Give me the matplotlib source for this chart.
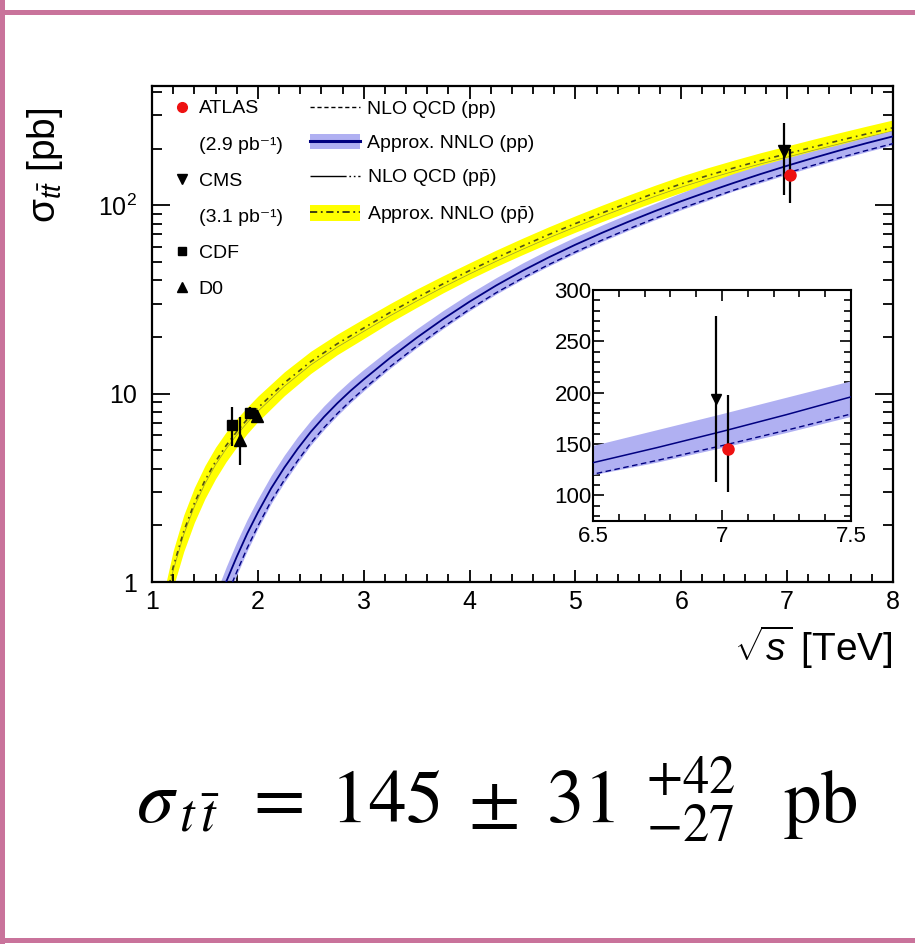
import numpy as np
import matplotlib
matplotlib.use('Agg')
import matplotlib.pyplot as plt
from matplotlib.lines import Line2D
from matplotlib.patches import Patch
from matplotlib.ticker import FixedLocator, MultipleLocator, NullFormatter, LogLocator, FixedFormatter

plt.rcParams['font.family'] = ['Liberation Sans', 'DejaVu Sans']
plt.rcParams['mathtext.fontset'] = 'custom'
plt.rcParams['mathtext.rm'] = 'Liberation Sans'
plt.rcParams['mathtext.it'] = 'Liberation Sans:italic'
plt.rcParams['mathtext.bf'] = 'Liberation Sans:bold'

# ---------------- data ----------------
# pp (LHC) theory curves
pp_x = [1.6, 1.7, 1.8, 1.9, 2.0, 2.125, 2.25, 2.375, 2.5, 2.625, 2.75, 2.875, 3.0,
        3.25, 3.5, 3.75, 4.0, 4.25, 4.5, 4.75, 5.0, 5.25, 5.5, 5.75, 6.0,
        6.25, 6.5, 6.75, 7.0, 7.25, 7.5, 7.75, 8.0]
pp_nnlo = [0.716, 1.0, 1.36, 1.81, 2.34, 3.14, 4.05, 5.09, 6.27, 7.53, 8.89, 10.35, 11.9,
           15.5, 19.8, 24.9, 30.8, 37.5, 44.9, 53.0, 61.8, 71.4, 81.8, 93.1, 105.2,
           118.0, 131.8, 146.6, 162.2, 178.6, 195.9, 213.8, 232.3]
pp_lo = [0.573, 0.80, 1.088, 1.466, 1.919, 2.606, 3.382, 4.276, 5.33, 6.438, 7.645, 8.953, 10.353,
         13.64, 17.52, 22.16, 27.57, 33.75, 40.41, 47.7, 55.62, 64.26, 73.62, 83.79, 94.68,
         106.2, 119.5, 131.9, 146.0, 160.7, 176.3, 192.4, 209.1]
pp_hi = [0.859, 1.20, 1.632, 2.154, 2.761, 3.674, 4.718, 5.904, 7.21, 8.622, 10.135, 11.747, 13.447,
         17.36, 22.08, 27.64, 34.03, 41.25, 49.39, 58.3, 67.98, 78.54, 89.98, 102.41, 116.5,
         132.0, 148.0, 163.5, 179.0, 195.0, 211.0, 230.0, 250.0]
pp_nlo = [0.594, 0.83, 1.129, 1.518, 1.982, 2.686, 3.483, 4.398, 5.471, 6.604, 7.832, 9.16, 10.585,
          13.92, 17.86, 22.57, 28.06, 34.31, 41.08, 48.5, 56.55, 65.33, 74.85, 85.19, 96.26,
          107.97, 120.6, 134.1, 148.4, 163.4, 179.2, 195.6, 212.6]

# p-pbar (Tevatron) theory curves
ppbar_x = [1.1, 1.2, 1.3, 1.4, 1.5, 1.6, 1.7, 1.8, 1.9, 2.0,
           2.25, 2.5, 2.75, 3.0, 3.25, 3.5, 3.75, 4.0, 4.25, 4.5, 4.75, 5.0,
           5.25, 5.5, 5.75, 6.0, 6.25, 6.5, 6.75, 7.0, 7.25, 7.5, 7.75, 8.0]
ppbar_nnlo = [0.675, 1.2, 1.86, 2.62, 3.46, 4.36, 5.30, 6.28, 7.31, 8.4,
              11.4, 14.8, 18.4, 22.3, 27.0, 32.3, 38.3, 45.0, 52.5, 60.8, 70.0, 80.0,
              91.0, 103.0, 116.1, 130.0, 143.9, 158.1, 173.0, 187.9, 204.2, 221.3, 239.3, 258.2]
ppbar_lo = [0.527, 0.936, 1.451, 2.07, 2.77, 3.53, 4.35, 5.21, 6.14, 7.10,
            9.75, 12.8, 16.1, 19.6, 23.9, 28.7, 34.3, 40.5, 47.3, 54.7, 63.0, 72.0,
            81.9, 92.7, 104.5, 117.0, 129.5, 142.3, 155.7, 169.1, 183.8, 199.2, 215.4, 232.4]
ppbar_hi = [0.824, 1.464, 2.269, 3.17, 4.15, 5.19, 6.25, 7.35, 8.48, 9.70,
            13.05, 16.8, 20.7, 25.0, 30.1, 35.9, 42.3, 49.5, 57.8, 66.9, 77.0, 88.0,
            100.1, 113.3, 127.7, 143.0, 158.3, 173.9, 190.3, 206.7, 224.6, 243.4, 263.2, 284.0]
ppbar_nlo = [0.648, 1.152, 1.786, 2.515, 3.32, 4.19, 5.09, 6.03, 7.02, 8.06,
             10.94, 14.21, 17.66, 21.41, 25.92, 31.0, 36.77, 43.2, 50.4, 58.37, 67.2, 76.8,
             87.36, 98.88, 111.46, 124.8, 138.14, 151.78, 166.08, 180.38, 196.03, 212.45, 229.73, 247.87]

# measurements
cdf_x = [1.76, 1.93]
cdf_y = [6.8, 7.9]
cdf_dn = [1.5, 0.6]
cdf_up = [1.7, 0.6]

d0_x = [1.83, 1.99]
d0_y = [5.7, 7.6]
d0_dn = [1.5, 0.6]
d0_up = [1.8, 0.6]

cms_x = [6.975]
cms_y = [194]
cms_dn = [81]
cms_up = [81]

atlas_x = [7.025]
atlas_y = [145]
atlas_dn = [42]
atlas_up = [53]

legend1_labels = ['ATLAS', '(2.9 pb\u207b\u00b9)', 'CMS', '(3.1 pb\u207b\u00b9)', 'CDF', 'D0']
legend2_labels = ['NLO QCD (pp)', 'Approx. NNLO (pp)',
                  r'NLO QCD (p$\bar{\mathrm{p}}$)', r'Approx. NNLO (p$\bar{\mathrm{p}}$)']

# ---------------- style ----------------
YELLOW = '#ffff00'
BLUE_BAND = '#b0b0f2'
NAVY = '#000080'

fig = plt.figure(figsize=(9.15, 9.44), dpi=100)

# slide frame lines
frame_col = '#c9739b'
fig.add_artist(Line2D([0, 1], [1 - 12 / 944, 1 - 12 / 944], color=frame_col, lw=3.6, transform=fig.transFigure))
fig.add_artist(Line2D([0, 1], [1 - 940 / 944, 1 - 940 / 944], color=frame_col, lw=3.6, transform=fig.transFigure))
fig.add_artist(Line2D([2 / 915, 2 / 915], [0, 1], color=frame_col, lw=3.6, transform=fig.transFigure))

ax = fig.add_axes([152 / 915, 1 - 582 / 944, (893 - 152) / 915, (582 - 86) / 944])

def draw_pp(a, lw_main=1.3):
    a.fill_between(pp_x, pp_lo, pp_hi, color=BLUE_BAND, lw=0, zorder=2)
    a.plot(pp_x, pp_nlo, color=NAVY, lw=1.0, ls=(0, (4, 2.5)), zorder=3)
    a.plot(pp_x, pp_nnlo, color=NAVY, lw=lw_main, zorder=3)

ax.fill_between(ppbar_x, ppbar_lo, ppbar_hi, color=YELLOW, lw=0, zorder=1)
ax.plot(ppbar_x, ppbar_nlo, color='#9a9a30', lw=0.5, zorder=1.5)
ax.plot(ppbar_x, ppbar_nnlo, color='#505018', lw=1.2, ls=(0, (3, 2.5, 1, 2.5)), zorder=1.6)
draw_pp(ax)

eb = dict(capsize=0, elinewidth=1.6, ls='none', zorder=5)
ax.errorbar(cdf_x, cdf_y, yerr=[cdf_dn, cdf_up], fmt='s', color='black', ms=7, **eb)
ax.errorbar(d0_x, d0_y, yerr=[d0_dn, d0_up], fmt='^', color='black', ms=8, **eb)
ax.errorbar(cms_x, cms_y, yerr=[cms_dn, cms_up], fmt='v', color='black', ms=8, **eb)
ax.errorbar(atlas_x, atlas_y, yerr=[atlas_dn, atlas_up], fmt='o', color='black', mfc='#ee1111', mec='#ee1111', ms=8, **eb)

ax.set_xlim(1, 8)
ax.set_yscale('log')
ax.set_ylim(1, 430)
ax.xaxis.set_major_locator(MultipleLocator(1))
ax.xaxis.set_minor_locator(MultipleLocator(0.2))
ax.yaxis.set_major_locator(FixedLocator([1, 10, 100]))
ax.yaxis.set_major_formatter(FixedFormatter(['1', '10', r'$\mathregular{10^{2}}$']))
ax.yaxis.set_minor_locator(LogLocator(base=10, subs=np.arange(2, 10)))
ax.yaxis.set_minor_formatter(NullFormatter())
ax.tick_params(which='both', direction='in', top=True, right=True, width=1.3, labelsize=18)
ax.tick_params(axis='x', which='major', length=9, pad=6)
ax.tick_params(axis='x', which='minor', length=5.5)
ax.tick_params(axis='y', which='major', length=13, pad=11)
ax.tick_params(axis='y', which='minor', length=7)
for s in ax.spines.values():
    s.set_linewidth(1.6)

ax.set_xlabel(r'$\sqrt{s}$ [TeV]', fontsize=28, loc='right')
ax.xaxis.set_label_coords(1.0, -0.085)
ax.set_ylabel(r'σ$_{t\bar{t}}$ [pb]', fontsize=28)
ax.yaxis.set_label_coords(-0.118, 0.84)

# legends
h_atlas = Line2D([], [], marker='o', color='#ee1111', ls='none', ms=7)
h_blank = Line2D([], [], ls='none')
h_cms = Line2D([], [], marker='v', color='black', ls='none', ms=7)
h_cdf = Line2D([], [], marker='s', color='black', ls='none', ms=5.5)
h_d0 = Line2D([], [], marker='^', color='black', ls='none', ms=7)
leg1 = ax.legend([h_atlas, h_blank, h_cms, h_blank, h_cdf, h_d0], legend1_labels,
                 loc='upper left', bbox_to_anchor=(0.03, 0.972), frameon=False, fontsize=14,
                 handlelength=0.8, handletextpad=0.45, labelspacing=0.95, borderaxespad=0, borderpad=0)
ax.add_artist(leg1)

h2 = [Line2D([], [], color='black', lw=1.0, ls=(0, (3, 2))),
      (Patch(facecolor=BLUE_BAND, edgecolor='none'), Line2D([], [], color=NAVY, lw=2.2)),
      Line2D([], [], color='black', lw=1.0, ls=(0, (26, 2, 1.2, 2, 1.2, 2))),
      (Patch(facecolor=YELLOW, edgecolor='none'), Line2D([], [], color='#303010', lw=1.3, ls=(0, (4, 2, 1, 2))))]
leg2 = ax.legend(h2, legend2_labels, loc='upper left', bbox_to_anchor=(0.213, 0.972), frameon=False,
                 fontsize=14, handlelength=2.6, handleheight=0.85, handletextpad=0.35, labelspacing=0.78,
                 borderaxespad=0, borderpad=0)

# inset
axi = fig.add_axes([593 / 915, 1 - 521 / 944, 258 / 915, 231 / 944])
axi.set_facecolor('white')
draw_pp(axi, lw_main=1.1)
axi.errorbar(cms_x, cms_y, yerr=[cms_dn, cms_up], fmt='v', color='black', ms=7, **eb)
axi.errorbar(atlas_x, atlas_y, yerr=[atlas_dn, atlas_up], fmt='o', color='black', mfc='#ee1111', mec='#ee1111', ms=8, **eb)
axi.set_xlim(6.5, 7.5)
axi.set_ylim(75, 300)
axi.xaxis.set_major_locator(FixedLocator([6.5, 7, 7.5]))
axi.xaxis.set_major_formatter(FixedFormatter(['6.5', '7', '7.5']))
axi.xaxis.set_minor_locator(MultipleLocator(0.1))
axi.yaxis.set_major_locator(MultipleLocator(50))
axi.yaxis.set_minor_locator(MultipleLocator(10))
axi.tick_params(which='both', direction='in', top=True, right=True, width=1.2, labelsize=16)
axi.tick_params(which='major', length=8)
axi.tick_params(which='minor', length=5)
axi.tick_params(axis='y', which='major', pad=1)
for s in axi.spines.values():
    s.set_linewidth(1.5)

# formula
fig.text(0.543, 0.153,
         r'$\sigma_{\,t\,\bar{t}}\;\,=\;145\;\pm\;31\;\,^{+42}_{-27}\;\;\;\mathrm{pb}$',
         fontsize=54, ha='center', va='center', math_fontfamily='stix')

fig.savefig('out.png', dpi=100, facecolor='white')
